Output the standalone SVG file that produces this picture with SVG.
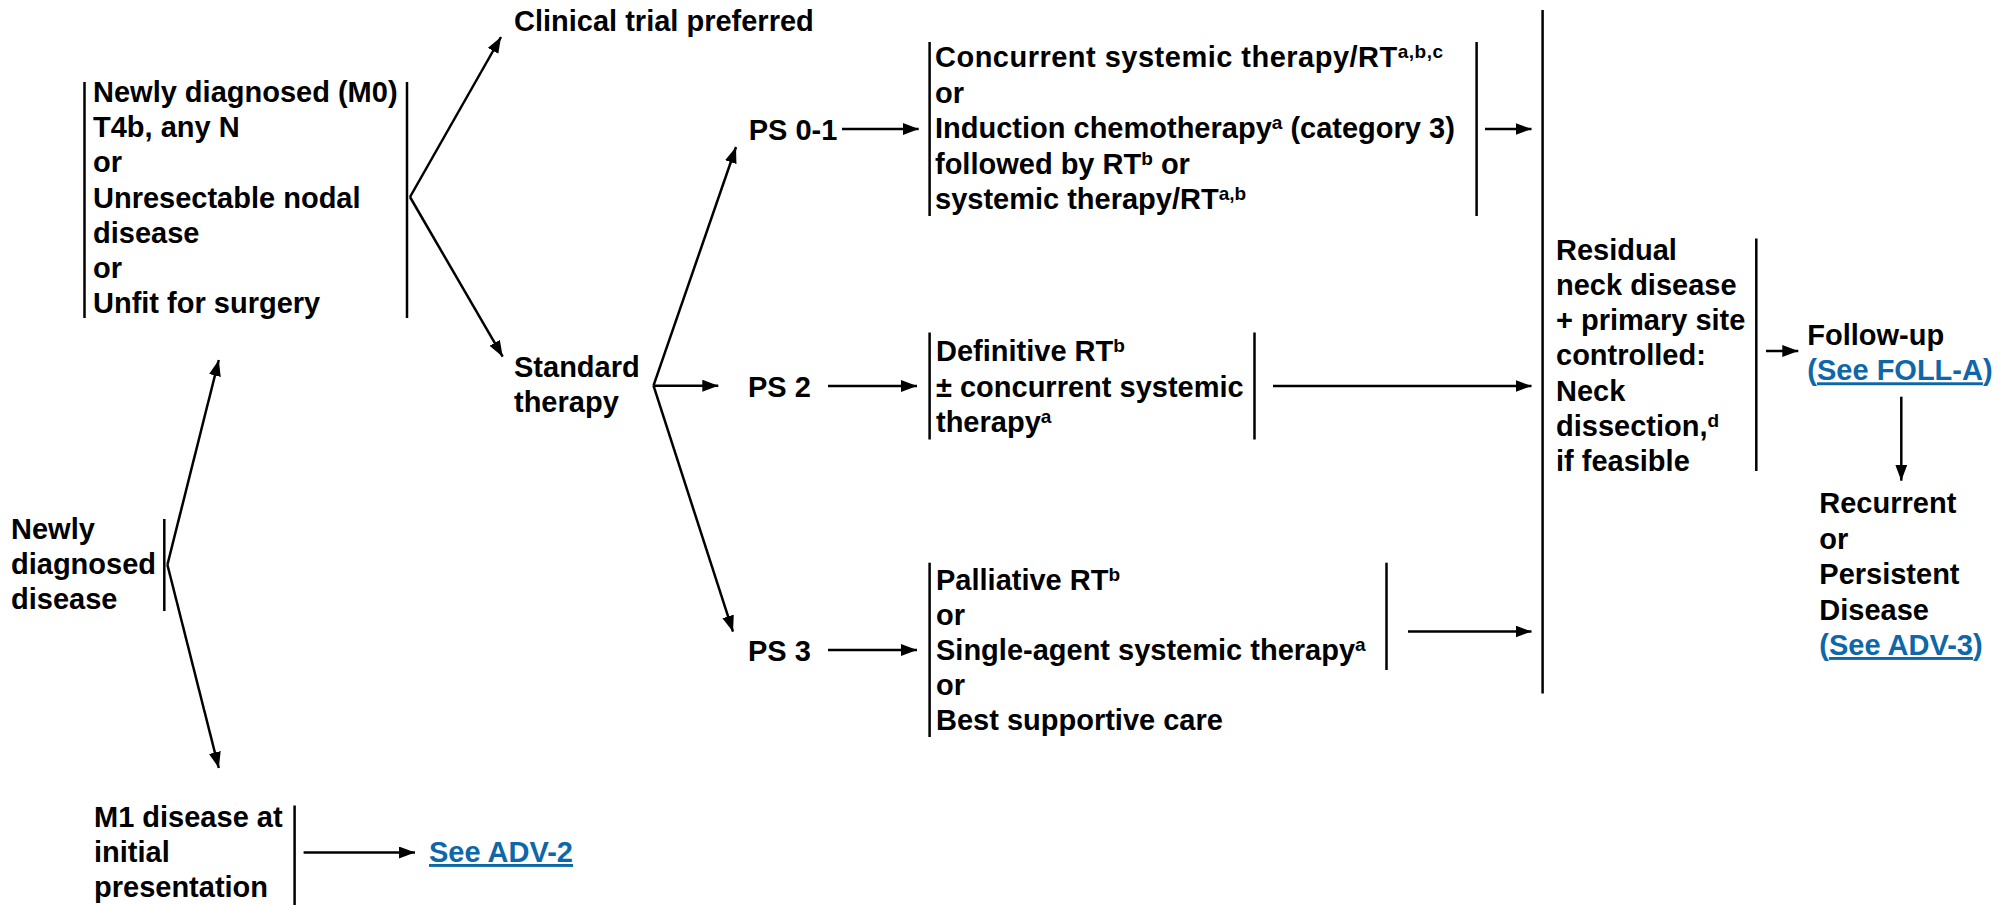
<svg xmlns="http://www.w3.org/2000/svg" width="2011" height="905" viewBox="0 0 2011 905">
  <style>
    text { font-family: "Liberation Sans", Arial, sans-serif; font-weight: bold; font-size: 29px; fill: #000; }
    .sup { font-size: 19px; }
    .link { fill: #0e67a9; }
    .u { text-decoration: underline; }
    .bar { stroke: #000; stroke-width: 2.5; fill: none; }
    .conn line { stroke: #000; stroke-width: 2.5; fill: none; }
    .arr { marker-end: url(#head); }
  </style>
  <defs>
    <marker id="head" markerUnits="userSpaceOnUse" markerWidth="17" markerHeight="13" refX="16" refY="6" orient="auto">
      <path d="M0,0 L16,6 L0,12 z" fill="#000"/>
    </marker>
  </defs>
  <rect width="2011" height="905" fill="#fff"/>

  <!-- Entry: newly diagnosed disease -->
  <g id="newly-diagnosed">
    <text x="11" y="539">Newly</text>
    <text x="11" y="574">diagnosed</text>
    <text x="11" y="609">disease</text>
    <line class="bar" x1="164.3" y1="519" x2="164.3" y2="611"/>
  </g>

  <!-- M0 presentation -->
  <g id="m0-disease">
    <line class="bar" x1="84.5" y1="82" x2="84.5" y2="318"/>
    <text x="93" y="102">Newly diagnosed (M0)</text>
    <text x="93" y="137.2">T4b, any N</text>
    <text x="93" y="172.4">or</text>
    <text x="93" y="207.6">Unresectable nodal</text>
    <text x="93" y="242.8">disease</text>
    <text x="93" y="278">or</text>
    <text x="93" y="313.2">Unfit for surgery</text>
    <line class="bar" x1="407" y1="82" x2="407" y2="318"/>
  </g>

  <!-- M1 presentation -->
  <g id="m1-disease">
    <text x="94" y="827">M1 disease at</text>
    <text x="94" y="862">initial</text>
    <text x="94" y="897">presentation</text>
    <line class="bar" x1="294.6" y1="805.5" x2="294.6" y2="905"/>
  </g>

  <g id="see-adv2">
    <text x="429" y="862" class="link u">See ADV-2</text>
  </g>

  <g id="clinical-trial">
    <text x="514" y="31">Clinical trial preferred</text>
  </g>

  <g id="standard-therapy">
    <text x="514" y="377">Standard</text>
    <text x="514" y="412">therapy</text>
  </g>

  <g id="ps01"><text x="748.7" y="139.5">PS 0-1</text></g>
  <g id="ps2"><text x="748" y="396.7">PS 2</text></g>
  <g id="ps3"><text x="748" y="660.5">PS 3</text></g>

  <!-- PS 0-1 treatment options -->
  <g id="ps01-treatment">
    <line class="bar" x1="929.6" y1="42" x2="929.6" y2="216"/>
    <text x="935" y="67" textLength="508" lengthAdjust="spacing">Concurrent systemic therapy/RT<tspan class="sup" dy="-9">a,b,c</tspan></text>
    <text x="935" y="102.5">or</text>
    <text x="935" y="138">Induction chemotherapy<tspan class="sup" dy="-9">a</tspan><tspan dy="9"> (category 3)</tspan></text>
    <text x="935" y="173.5">followed by RT<tspan class="sup" dy="-9">b</tspan><tspan dy="9"> or</tspan></text>
    <text x="935" y="209">systemic therapy/RT<tspan class="sup" dy="-9">a,b</tspan></text>
    <line class="bar" x1="1476.6" y1="42" x2="1476.6" y2="216"/>
  </g>

  <!-- PS 2 treatment options -->
  <g id="ps2-treatment">
    <line class="bar" x1="929.6" y1="332.5" x2="929.6" y2="439.5"/>
    <text x="936" y="361">Definitive RT<tspan class="sup" dy="-9">b</tspan></text>
    <text x="936" y="396.7">± concurrent systemic</text>
    <text x="936" y="431.7">therapy<tspan class="sup" dy="-9">a</tspan></text>
    <line class="bar" x1="1254.5" y1="332.5" x2="1254.5" y2="439.5"/>
  </g>

  <!-- PS 3 treatment options -->
  <g id="ps3-treatment">
    <line class="bar" x1="929.6" y1="562.7" x2="929.6" y2="737"/>
    <text x="936" y="589.5">Palliative RT<tspan class="sup" dy="-9">b</tspan></text>
    <text x="936" y="624.7">or</text>
    <text x="936" y="659.9">Single-agent systemic therapy<tspan class="sup" dy="-9">a</tspan></text>
    <text x="936" y="695.1">or</text>
    <text x="936" y="730.3">Best supportive care</text>
    <line class="bar" x1="1386.5" y1="562.7" x2="1386.5" y2="670"/>
  </g>

  <!-- Residual neck disease -->
  <g id="residual-neck">
    <line class="bar" x1="1542.6" y1="10" x2="1542.6" y2="693.5"/>
    <text x="1556" y="259.8">Residual</text>
    <text x="1556" y="295">neck disease</text>
    <text x="1556" y="330.2">+ primary site</text>
    <text x="1556" y="365.4">controlled:</text>
    <text x="1556" y="400.6">Neck</text>
    <text x="1556" y="435.8">dissection,<tspan class="sup" dy="-9">d</tspan></text>
    <text x="1556" y="471">if feasible</text>
    <line class="bar" x1="1756.3" y1="238.5" x2="1756.3" y2="471"/>
  </g>

  <g id="follow-up">
    <text x="1807.3" y="344.8">Follow-up</text>
    <text x="1807.3" y="380.3" class="link">(<tspan class="u">See FOLL-A</tspan>)</text>
  </g>

  <g id="recurrent">
    <text x="1819.3" y="513">Recurrent</text>
    <text x="1819.3" y="548.5">or</text>
    <text x="1819.3" y="584">Persistent</text>
    <text x="1819.3" y="619.5">Disease</text>
    <text x="1819.3" y="655" class="link">(<tspan class="u">See ADV-3</tspan>)</text>
  </g>

  <!-- Connectors -->
  <g id="connectors" class="conn">
    <line class="arr" x1="167.4" y1="564.7" x2="218.8" y2="360"/>
    <line class="arr" x1="167.4" y1="564.7" x2="218.8" y2="768"/>
    <line class="arr" x1="410" y1="197" x2="501" y2="37"/>
    <line class="arr" x1="410" y1="197" x2="502.7" y2="356.7"/>
    <line class="arr" x1="653.5" y1="385.7" x2="736" y2="147"/>
    <line class="arr" x1="653.5" y1="385.7" x2="718.3" y2="385.7"/>
    <line class="arr" x1="653.5" y1="385.7" x2="733" y2="631.7"/>
    <line class="arr" x1="842" y1="129" x2="918.7" y2="129"/>
    <line class="arr" x1="828" y1="386" x2="917" y2="386"/>
    <line class="arr" x1="828" y1="650" x2="917" y2="650"/>
    <line class="arr" x1="1485" y1="129" x2="1531.5" y2="129"/>
    <line class="arr" x1="1273" y1="386" x2="1531.5" y2="386"/>
    <line class="arr" x1="1408" y1="631.5" x2="1531.5" y2="631.5"/>
    <line class="arr" x1="1766" y1="351" x2="1798.3" y2="351"/>
    <line class="arr" x1="1901.3" y1="396.7" x2="1901.3" y2="480.7"/>
    <line class="arr" x1="303.6" y1="852.5" x2="415" y2="852.5"/>
  </g>
</svg>
